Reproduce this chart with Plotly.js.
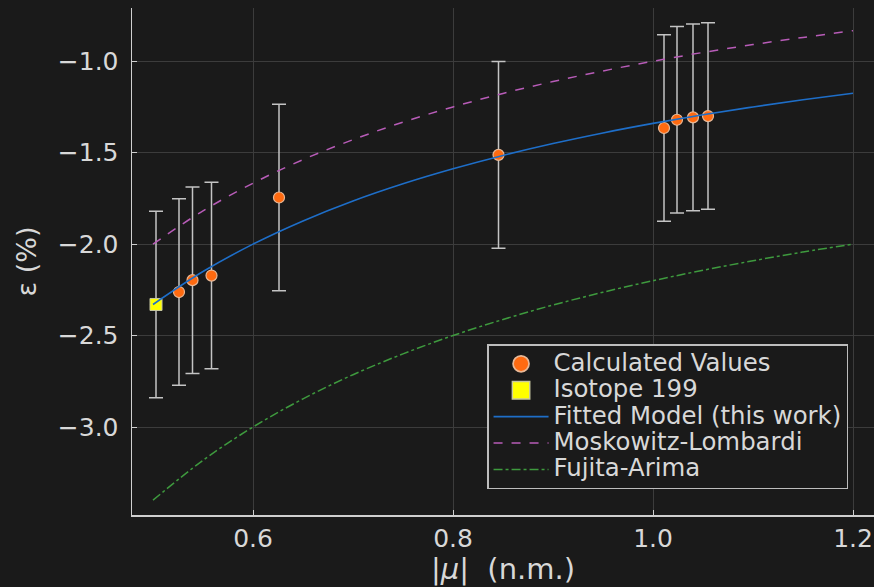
<!DOCTYPE html>
<html>
<head>
<meta charset="utf-8">
<script src="https://cdn.plot.ly/plotly-3.0.1.min.js"></script>
<style>
html,body{margin:0;padding:0;background:#1a1a1a;}
#chart{width:874px;height:587px;}
.legendtext{font-size:24.4px !important;}
</style>
</head>
<body>
<div id="chart"></div>
<script>
// Calculated values (|mu|, epsilon %, error)
const calcX = [0.503, 0.526, 0.5395, 0.5585, 0.626, 0.8455, 1.011, 1.024, 1.040, 1.055];
const calcY = [-2.33, -2.262, -2.197, -2.172, -1.745, -1.512, -1.365, -1.320, -1.307, -1.300];
const calcErr = [0.51, 0.51, 0.51, 0.51, 0.51, 0.51, 0.51, 0.51, 0.51, 0.51];
// Isotope 199
const isoX = [0.503];
const isoY = [-2.33];
// Model curves
const curveX = [0.5, 0.55, 0.6, 0.65, 0.7, 0.75, 0.8, 0.85, 0.9, 0.95, 1.0, 1.05, 1.1, 1.15, 1.2];
const fittedY = [-2.33, -2.15, -2.0, -1.873, -1.764, -1.67, -1.588, -1.515, -1.45, -1.392, -1.34, -1.293, -1.25, -1.211, -1.175];
const moskY = [-2.0, -1.818, -1.667, -1.538, -1.429, -1.333, -1.25, -1.176, -1.111, -1.053, -1.0, -0.952, -0.909, -0.870, -0.833];
const fujitaY = [-3.4, -3.182, -3.0, -2.846, -2.714, -2.6, -2.5, -2.412, -2.333, -2.263, -2.2, -2.143, -2.091, -2.043, -2.0];
const xTicks = [0.6, 0.8, 1.0, 1.2];
const xTickText = ['0.6', '0.8', '1.0', '1.2'];
const yTicks = [-3.0, -2.5, -2.0, -1.5, -1.0];
const yTickText = ['\u22123.0', '\u22122.5', '\u22122.0', '\u22121.5', '\u22121.0'];

const FONT = 'DejaVu Sans, sans-serif';
const TXT = '#d8d8d8';

const traces = [
  {
    x: calcX, y: calcY, type: 'scatter', mode: 'markers', name: 'Calculated Values',
    marker: {color: '#ff6a10', size: 11, line: {color: '#e8b896', width: 1.2}},
    error_y: {type: 'data', array: calcErr, visible: true, color: '#c4c4c4', thickness: 1.5, width: 7}
  },
  {
    x: isoX, y: isoY, type: 'scatter', mode: 'markers', name: 'Isotope 199',
    marker: {color: '#ffff00', symbol: 'square', size: 12, line: {color: '#c8c8a0', width: 1}}
  },
  {
    x: curveX, y: fittedY, type: 'scatter', mode: 'lines', name: 'Fitted Model (this work)',
    line: {color: '#1e6ec8', width: 1.6, shape: 'spline'}
  },
  {
    x: curveX, y: moskY, type: 'scatter', mode: 'lines', name: 'Moskowitz-Lombardi',
    line: {color: '#b85cb8', width: 1.5, dash: 'dash', shape: 'spline'}
  },
  {
    x: curveX, y: fujitaY, type: 'scatter', mode: 'lines', name: 'Fujita-Arima',
    line: {color: '#3e9a3e', width: 1.5, dash: 'dashdot', shape: 'spline'}
  }
];

const layout = {
  width: 874, height: 587,
  paper_bgcolor: '#1a1a1a', plot_bgcolor: '#1a1a1a',
  margin: {l: 132, r: 0, t: 8, b: 72},
  font: {family: FONT, color: TXT, size: 25},
  showlegend: true,
  legend: {
    x: 0.4785, y: 0.337, xanchor: 'left', yanchor: 'top',
    bgcolor: '#1a1a1a', bordercolor: '#bdbdbd', borderwidth: 1.5,
    font: {family: FONT, size: 18, color: TXT},
    itemwidth: 55, tracegroupgap: 0
  },
  xaxis: {
    range: [0.479, 1.221], tickvals: xTicks, ticktext: xTickText,
    showgrid: true, gridcolor: '#3c3c3c', gridwidth: 1,
    showline: true, linecolor: '#cfcfcf', linewidth: 1.5,
    ticks: 'inside', ticklen: 5, tickcolor: '#cfcfcf',
    tickfont: {family: FONT, size: 25, color: TXT},
    zeroline: false,
    title: {text: '|<i>μ</i>|\u00a0\u00a0(n.m.)', font: {family: FONT, size: 29, color: TXT}, standoff: 1}
  },
  yaxis: {
    range: [-3.481, -0.709], tickvals: yTicks, ticktext: yTickText,
    showgrid: true, gridcolor: '#3c3c3c', gridwidth: 1,
    showline: true, linecolor: '#cfcfcf', linewidth: 1.5,
    ticks: 'inside', ticklen: 5, tickcolor: '#cfcfcf',
    tickfont: {family: FONT, size: 25, color: TXT},
    ticklabelstandoff: 7,
    zeroline: false,
    title: {text: 'ε (%)', font: {family: FONT, size: 27, color: TXT}, standoff: 13}
  }
};

Plotly.newPlot('chart', traces, layout, {displayModeBar: false, staticPlot: true}).then(function () {
  document.querySelectorAll('.legend .legendpoints path.scatterpts').forEach(function (p) {
    const t = p.getAttribute('transform') || '';
    p.setAttribute('transform', t + ' scale(1.45)');
  });
});
</script>
</body>
</html>
